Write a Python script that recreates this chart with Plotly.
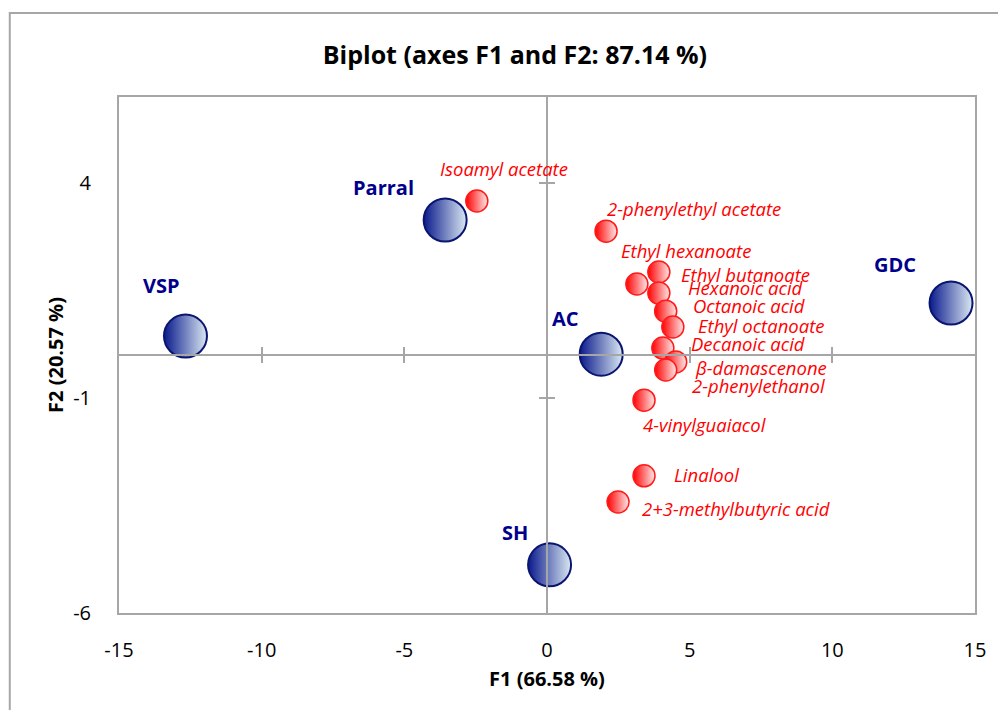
import plotly.graph_objects as go

# ---- data ----
obs_names = ["VSP", "Parral", "AC", "SH", "GDC"]
obs_f1 = [-12.67, -3.57, 1.90, 0.09, 14.16]
obs_f2 = [0.44, 3.14, 0.02, -4.88, 1.21]

var_names = ["Isoamyl acetate", "2-phenylethyl acetate", "Ethyl hexanoate",
             "Ethyl butanoate", "Hexanoic acid", "Octanoic acid", "Ethyl octanoate",
             "Decanoic acid", "β-damascenone", "2-phenylethanol", "4-vinylguaiacol",
             "Linalool", "2+3-methylbutyric acid"]
var_f1 = [-2.46, 2.07, 3.15, 3.92, 3.92, 4.16, 4.41, 4.06, 4.51, 4.16, 3.40, 3.40, 2.49]
var_f2 = [3.58, 2.88, 1.65, 1.93, 1.44, 1.02, 0.65, 0.16, -0.16, -0.35, -1.05, -2.81, -3.42]

x_ticks = [-15, -10, -5, 0, 5, 10, 15]
y_ticks = [-6, -1, 4]

# label offsets in pixels (left edge dx, centre dy; +dy = down)
obs_off = [(-44, -51), (-94, -32), (-51, -36), (-50, -32), (-79, -38)]
var_off = [(-39, -33), (-1, -23), (-18, -34), (20, 2), (27, -6), (25, -6), (23, -2),
           (26, -5), (17, 6), (24, 15), (-3, 24), (28, -1), (22, 6)]

FONT = "Open Sans"
NAVY = "#00008b"
RED = "#ff0000"
GRID = "#a6a6a6"

fig = go.Figure()

# white halos
fig.add_trace(go.Scatter(x=obs_f1, y=obs_f2, mode="markers", hoverinfo="skip",
                         marker=dict(size=52, color="white", line=dict(width=0))))
fig.add_trace(go.Scatter(x=var_f1, y=var_f2, mode="markers", hoverinfo="skip",
                         marker=dict(size=28, color="white", line=dict(width=0))))

fig.add_trace(go.Scatter(
    x=obs_f1, y=obs_f2, mode="markers", name="Observations",
    marker=dict(size=43, color="#0a1a8c",
                gradient=dict(type="horizontal", color="#dbe8f2"),
                line=dict(color="#0a1570", width=2))))
fig.add_trace(go.Scatter(
    x=var_f1, y=var_f2, mode="markers", name="Variables",
    marker=dict(size=22, color="#ff0000",
                gradient=dict(type="horizontal", color="#ffe8e8"),
                line=dict(color="#ff1a1a", width=1.5))))

# overlay axes for crossing tick marks along the zero lines
fig.add_trace(go.Scatter(x=[0], y=[0], xaxis="x2", yaxis="y2", mode="markers",
                         marker=dict(opacity=0), hoverinfo="skip"))
fig.add_trace(go.Scatter(x=[0], y=[0], xaxis="x3", yaxis="y3", mode="markers",
                         marker=dict(opacity=0), hoverinfo="skip"))

for n, x, y, (dx, dy) in zip(obs_names, obs_f1, obs_f2, obs_off):
    fig.add_annotation(x=x, y=y, text=n, showarrow=False, xanchor="left", yanchor="middle",
                       xshift=dx, yshift=-dy,
                       font=dict(family=FONT, size=20, color=NAVY, weight="bold"))
for n, x, y, (dx, dy) in zip(var_names, var_f1, var_f2, var_off):
    fig.add_annotation(x=x, y=y, text="<i>" + n + "</i>", showarrow=False, xanchor="left",
                       yanchor="middle", xshift=dx, yshift=-dy,
                       font=dict(family=FONT, size=18.5, color=RED))

# outer chart border
fig.add_shape(type="rect", xref="paper", yref="paper", x0=-0.1276, x1=1.05, y0=-0.3, y1=1.1628,
              line=dict(color=GRID, width=2), fillcolor="rgba(0,0,0,0)", layer="below")

common_overlay = dict(showgrid=False, zeroline=False, showticklabels=False,
                      showline=True, linecolor=GRID, linewidth=2, tickcolor=GRID,
                      tickwidth=2, ticklen=7)

fig.update_layout(
    width=990, height=702,
    margin=dict(l=111, r=17, t=89, b=97),
    paper_bgcolor="white", plot_bgcolor="white",
    showlegend=False,
    title=dict(text="<b>Biplot (axes F1 and F2: 87.14 %)</b>", x=0.512, xanchor="center",
               y=0.933, yanchor="middle", font=dict(family=FONT, size=25, color="black")),
    xaxis=dict(range=[-15, 15], tickvals=x_ticks, ticktext=[str(v) for v in x_ticks],
               showgrid=False, zeroline=False,
               showline=True, mirror=True, linecolor=GRID, linewidth=2,
               ticks="outside", ticklen=18, tickcolor="rgba(0,0,0,0)",
               tickfont=dict(family=FONT, size=20, color="black"),
               title=dict(text="<b>F1 (66.58 %)</b>", standoff=10,
                          font=dict(family=FONT, size=20, color="black"))),
    yaxis=dict(range=[-6, 6], tickvals=y_ticks, ticktext=[str(v) for v in y_ticks],
               showgrid=False, zeroline=False,
               showline=True, mirror=True, linecolor=GRID, linewidth=2,
               ticks="outside", ticklen=22, tickcolor="rgba(0,0,0,0)",
               tickfont=dict(family=FONT, size=20, color="black"),
               title=dict(text="<b>F2 (20.57 %)</b>", standoff=4,
                          font=dict(family=FONT, size=20, color="black"))),
    xaxis2=dict(range=[-15, 15], overlaying="x", anchor="free", position=0.5, side="bottom",
                tickvals=[-10, -5, 5, 10], ticks="outside", **common_overlay),
    yaxis2=dict(range=[-6, 6], overlaying="y", anchor="free", position=0.5, side="left",
                tickvals=[-1, 4], ticks="outside", **common_overlay),
    xaxis3=dict(range=[-15, 15], overlaying="x", anchor="free", position=0.5, side="bottom",
                tickvals=[-10, -5, 5, 10], ticks="inside", **common_overlay),
    yaxis3=dict(range=[-6, 6], overlaying="y", anchor="free", position=0.5, side="left",
                tickvals=[-1, 4], ticks="inside", **common_overlay),
)

fig.write_html("out.html")
